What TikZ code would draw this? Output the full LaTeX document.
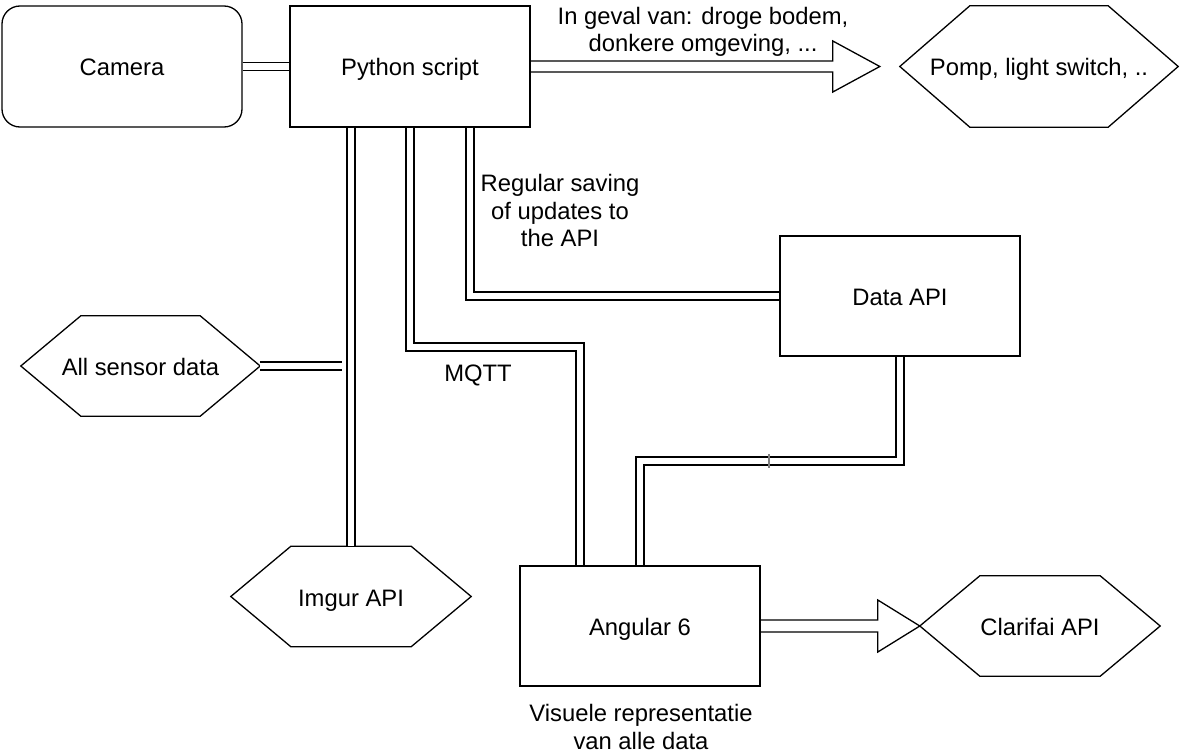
\documentclass[tikz,border=0pt]{standalone}
\usepackage{fontspec}
\setmainfont{Liberation Sans}
\usetikzlibrary{calc}
\tikzset{
  ln/.style={line width=1.3pt, draw=black},
  box/.style={ln, rectangle, minimum width=240pt, minimum height=121pt, inner sep=0pt,
    font=\fontsize{23.8}{27.2}\selectfont, text height=24pt, text depth=5pt},
  hexnode/.style={rectangle, draw=none, inner sep=0pt,
    font=\fontsize{23.8}{27.2}\selectfont, text height=24pt, text depth=5pt},
  lbl/.style={inner sep=0pt, align=center, font=\fontsize{23.8}{27.2}\selectfont},
  dbl/.style={line width=1.3pt, double=white, double distance=6.5pt, draw=black},
  tick/.style={draw=gray, line width=2pt}
}
\newcommand{\hexoutline}[2]{%
  \draw[ln] (#1.west) -- ([xshift=#2]#1.north west) -- ([xshift=-#2]#1.north east)
    -- (#1.east) -- ([xshift=-#2]#1.south east) -- ([xshift=#2]#1.south west) -- cycle;}
\begin{document}
\begin{tikzpicture}[x=1pt,y=-1pt]
\useasboundingbox[fill=white] (0,0) rectangle (1182,754);

% nodes
\node[box, rounded corners=18pt] (cam) at (122,66.5) {Camera};
\node[box] (py) at (410,66.5) {Python script};
\node[hexnode, minimum width=278pt, minimum height=121pt] (pomp) at (1039,66.5) {Pomp, light switch, ..};
\hexoutline{pomp}{70pt}
\node[box, minimum height=120pt] (data) at (900,296) {Data API};
\node[hexnode, minimum width=239pt, minimum height=100pt] (sensor) at (140.5,366) {All sensor data};
\hexoutline{sensor}{60pt}
\node[hexnode, minimum width=240pt, minimum height=100pt] (imgur) at (351,596.5) {Imgur API};
\hexoutline{imgur}{60pt}
\node[box, minimum height=120pt] (ang) at (640,626) {Angular 6};
\node[hexnode, minimum width=240pt, minimum height=100pt] (clar) at (1040,626) {Clarifai API};
\hexoutline{clar}{60pt}

% labels
\node[lbl] (lg) at (703,31.5) {In geval van: droge bodem,\\donkere omgeving, ...};
\node[lbl] (lr) at (560,210.5) {Regular saving\\of updates to\\the API};
\node[lbl] (lm) at (478,375) {MQTT};
\node[lbl] (lv) at (641,727) {Visuele representatie\\van alle data};

% double connectors
\draw[dbl] (cam.east) -- (py.west);
\draw[dbl] (imgur.north |- py.south) -- (imgur.north);
\coordinate (sj) at ([xshift=-9pt]imgur.north |- sensor.east);
\draw[dbl] (sensor.east) -- (sj);
\coordinate (mq) at (580,347);
\draw[dbl] (py.south) |- (mq) -- (mq |- ang.north);
\draw[dbl] ([xshift=60pt]py.south) |- (data.west);
\coordinate (dj) at (640,461);
\draw[dbl] (data.south) |- (dj) -- (ang.north);
\coordinate (tk1) at (769,454);
\coordinate (tk2) at (769,468);
\draw[tick] (tk1) -- (tk2);

% flex arrows
\draw[ln] let \p1=(py.east), \p2=([xshift=-20pt]pomp.west) in
  (\x1,\y1+5.5pt) -- (\x2-47pt,\y1+5.5pt) -- (\x2-47pt,\y1+25.5pt) -- (\x2,\y1)
  -- (\x2-47pt,\y1-25.5pt) -- (\x2-47pt,\y1-5.5pt) -- (\x1,\y1-5.5pt);
\draw[ln] let \p1=(ang.east), \p2=(clar.west) in
  (\x1,\y1+6pt) -- (\x2-42pt,\y1+6pt) -- (\x2-42pt,\y1+26pt) -- (\x2,\y1)
  -- (\x2-42pt,\y1-26pt) -- (\x2-42pt,\y1-6pt) -- (\x1,\y1-6pt);
\end{tikzpicture}
\end{document}
